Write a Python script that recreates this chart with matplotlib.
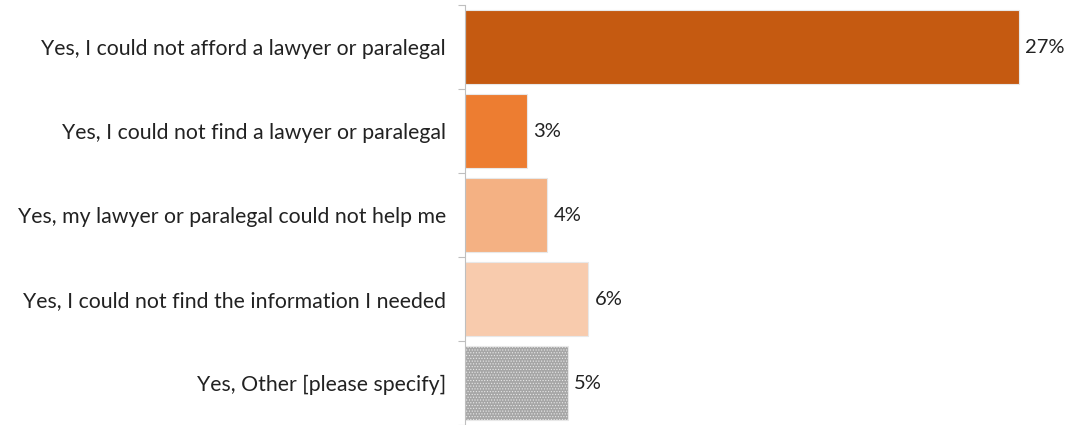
import matplotlib
matplotlib.use("Agg")
import matplotlib.pyplot as plt
import numpy as np

categories=["Yes, I could not afford a lawyer or paralegal",
            "Yes, I could not find a lawyer or paralegal",
            "Yes, my lawyer or paralegal could not help me",
            "Yes, I could not find the information I needed",
            "Yes, Other [please specify]"]
values=[27,3,4,6,5]
colors=["#C55A11","#ED7D31","#F4B183","#F8CBAD","#A6A6A6"]

plt.rcParams['font.family']=['Lato','DejaVu Sans']
plt.rcParams['hatch.color']="#959595"
plt.rcParams['hatch.linewidth']=0.5

fig=plt.figure(figsize=(10.7,4.25),dpi=100)
ax=fig.add_axes([0.435,0.0,0.565,0.988])

y=np.arange(len(categories))
bars=ax.barh(y,values,height=0.88,color=colors,edgecolor="#E8E8E8",linewidth=0.8)
# the "Other" bar has a fine dotted texture
bars[-1].set_hatch("......")

for b,v in zip(bars,values):
    ax.text(v+0.3,b.get_y()+b.get_height()/2,str(v)+"%",va="center",ha="left",fontsize=14.5,color="#222222")

ax.set_ylim(len(categories)-0.5,-0.5)
ax.set_xlim(0,29.5)
ax.set_yticks(y)
ax.set_yticklabels(categories,fontsize=15.3,color="#222222")
ax.set_yticks(np.arange(-0.5,len(categories)),minor=True)
ax.tick_params(axis="y",which="major",length=0,pad=14)
ax.tick_params(axis="y",which="minor",length=5,color="#BFBFBF",width=0.8)
ax.set_xticks([])

for s in ["top","right","bottom"]:
    ax.spines[s].set_visible(False)
ax.spines["left"].set_color("#BFBFBF")
ax.spines["left"].set_linewidth(0.8)

fig.savefig("out.png",dpi=100)
